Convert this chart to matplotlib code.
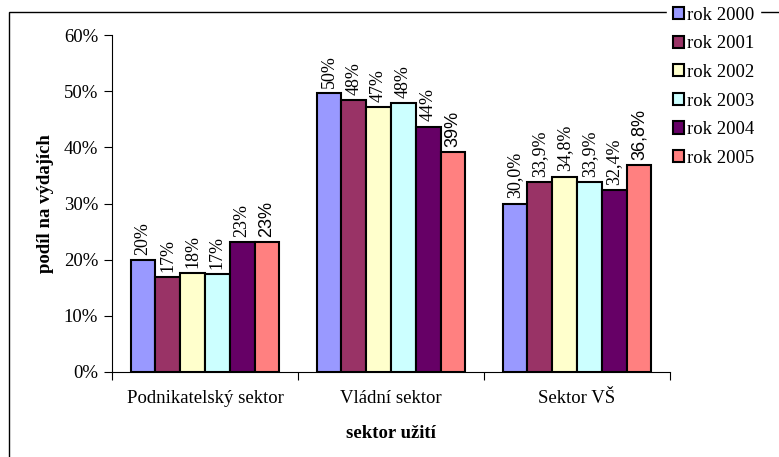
import matplotlib.pyplot as plt
import numpy as np
from matplotlib.patches import Rectangle

SECTORS = ["Podnikatelský sektor", "Vládní sektor", "Sektor VŠ"]
YEARS = ["rok 2000", "rok 2001", "rok 2002", "rok 2003", "rok 2004", "rok 2005"]
COLORS = ["#9999FF", "#993366", "#FFFFCC", "#CCFFFF", "#660066", "#FF8080"]

# values in %, per year: [Podnikatelsky, Vladni, VS]
VALUES = [
    [19.9, 49.6, 30.0],
    [16.9, 48.4, 33.9],
    [17.6, 47.1, 34.8],
    [17.4, 47.9, 33.9],
    [23.1, 43.7, 32.4],
    [23.1, 39.2, 36.8],
]
# label text per year, per sector
LABELS = [
    ["20%", "50%", "30,0%"],
    ["17%", "48%", "33,9%"],
    ["18%", "47%", "34,8%"],
    ["17%", "48%", "33,9%"],
    ["23%", "44%", "32,4%"],
    ["23%", "39%", "36,8%"],
]

W, H = 779, 457
SERIF = "Liberation Serif"
SANS = "Liberation Sans"
FS = 13.5

fig = plt.figure(figsize=(W / 100, H / 100), dpi=100)
ax = fig.add_axes([112 / W, 1 - 372 / H, (670 - 112) / W, (372 - 35) / H])

# outer chart border (cropped at right and bottom)
fig.patches.append(Rectangle((9 / W, -0.1), 1.2, 1 - 12 / H + 0.1,
                             transform=fig.transFigure, fill=False,
                             edgecolor="black", linewidth=1.0, zorder=1))

x = np.arange(len(SECTORS))
bw = 0.8 / len(YEARS)
for i, year in enumerate(YEARS):
    pos = x - 0.4 + bw * (i + 0.5)
    ax.bar(pos, VALUES[i], width=bw, color=COLORS[i], edgecolor="black",
           linewidth=1.5, label=year, zorder=2)
    for p, v, t in zip(pos, VALUES[i], LABELS[i]):
        if i == len(YEARS) - 1:
            ax.text(p, v + 0.9, t, rotation=90, ha="center", va="bottom",
                    fontsize=13, family=SANS)
        else:
            ax.text(p, v + 0.9, t, rotation=90, ha="center", va="bottom",
                    fontsize=13, family=SERIF)

ax.set_xlim(-0.5, 2.5)
ax.set_ylim(0, 60)
ax.set_yticks(np.arange(0, 61, 10))
ax.set_yticklabels([f"{v}%" for v in range(0, 61, 10)], family=SERIF, fontsize=FS)
ax.set_xticks([-0.5, 0.5, 1.5, 2.5])
ax.set_xticklabels([])
ax.set_xticks(x, minor=True)
ax.set_xticklabels(SECTORS, minor=True, family=SERIF, fontsize=FS)
ax.tick_params(axis="x", which="minor", length=0, pad=13)
ax.tick_params(axis="x", which="major", length=6, direction="out")
ax.tick_params(axis="y", length=6, direction="out", pad=4)
for s in ["top", "right"]:
    ax.spines[s].set_visible(False)

ax.set_ylabel("podíl na výdajích", family=SERIF, fontsize=FS, fontweight="bold", labelpad=7)
ax.set_xlabel("sektor užití", family=SERIF, fontsize=FS, fontweight="bold", labelpad=13)

leg = fig.legend(loc="upper left", bbox_to_anchor=(667 / W, 1 - 1 / H),
                 prop={"family": SERIF, "size": FS}, frameon=True,
                 fancybox=False, edgecolor="white", facecolor="white",
                 framealpha=1, handlelength=0.62, handleheight=0.62,
                 handletextpad=0.15, labelspacing=0.62, borderpad=0.3,
                 borderaxespad=0)
leg.set_zorder(5)

fig.savefig("out.png", dpi=100)
